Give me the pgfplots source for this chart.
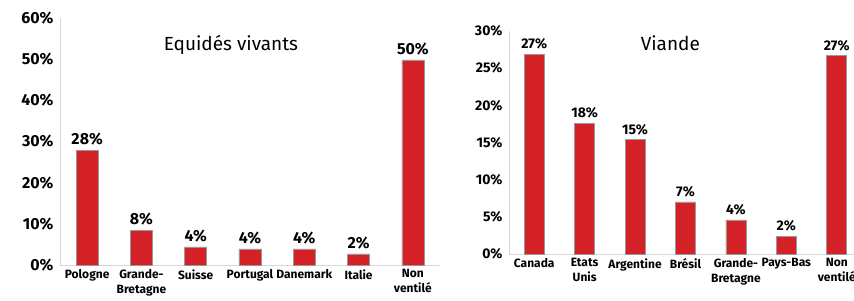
\documentclass[border=0pt]{standalone}
\usepackage{pgfplots}
\pgfplotsset{compat=1.18}
\usepackage{fontspec}
\setmainfont{Fira Sans}
\definecolor{barred}{HTML}{D42027}
\definecolor{axgray}{HTML}{D8D8D8}
\pgfplotsset{
  mybar/.style={
    scale only axis,
    ybar, bar width=#1,
    axis x line*=bottom, axis y line*=left,
    axis line style={axgray},
    x axis line style={-}, y axis line style={-},
    xmin=-0.5, xmax=6.5, ymin=0,
    xtick={0,...,6},
    major tick length=0pt,
    extra x ticks={0.5,1.5,2.5,3.5,4.5,5.5},
    extra x tick labels={},
    extra x tick style={major tick length=4pt, tick style={axgray}, tick pos=left},
    tick style={draw=none},
    xticklabel style={font=\fontsize{12}{15}\selectfont\bfseries, align=center, text width=60pt, yshift=-1pt},
    yticklabel={\pgfmathprintnumber[assume math mode=true]{\tick}\%},
    point meta=explicit symbolic,
    nodes near coords,
    clip=false,
  }
}
\begin{document}
\begin{tikzpicture}
\path[use as bounding box] (0pt,0pt) rectangle (854pt,300pt);
\clip (0pt,0pt) rectangle (854pt,300pt);
\begin{axis}[mybar=22pt, at={(60pt,35pt)}, anchor=south west, width=380pt, height=247pt,
  ymax=60, ytick={0,10,...,60},
  yticklabel style={font=\fontsize{16}{16}\selectfont\bfseries, xshift=-3pt},
  every node near coord/.append style={font=\fontsize{16}{16}\selectfont\bfseries, yshift=1pt},
  xticklabels={Pologne,{Grande-\\Bretagne},Suisse,Portugal,Danemark,Italie,{Non\\ventilé}},
]
\addplot[fill=barred, draw=gray!80, line width=0.6pt] coordinates {
 (0,27.9) [28\%] (1,8.5) [8\%] (2,4.4) [4\%] (3,3.9) [4\%] (4,3.9) [4\%] (5,2.7) [2\%] (6,49.8) [50\%]};
\node[font=\fontsize{19}{19}\selectfont] at (axis cs:2.65,53.5) {Equidés vivants};
\end{axis}
\begin{axis}[mybar=20pt, at={(509pt,46pt)}, anchor=south west, width=353pt, height=223pt,
  ymax=30, ytick={0,5,...,30},
  yticklabel style={font=\fontsize{14}{14}\selectfont\bfseries, xshift=-3pt},
  every node near coord/.append style={font=\fontsize{14}{14}\selectfont\bfseries, yshift=1pt},
  xticklabels={Canada,{Etats\\Unis},Argentine,Brésil,{Grande-\\Bretagne},Pays-Bas,{Non\\ventilé}},
]
\addplot[fill=barred, draw=gray!80, line width=0.6pt] coordinates {
 (0,26.9) [27\%] (1,17.6) [18\%] (2,15.4) [15\%] (3,7.0) [7\%] (4,4.6) [4\%] (5,2.4) [2\%] (6,26.7) [27\%]};
\node[font=\fontsize{19}{19}\selectfont] at (axis cs:2.7,28.3) {Viande};
\end{axis}
\end{tikzpicture}
\end{document}
